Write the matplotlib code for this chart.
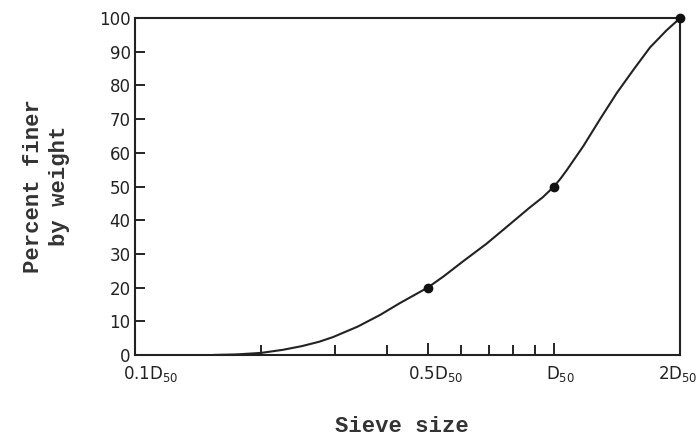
import matplotlib
matplotlib.use("Agg")
import matplotlib.pyplot as plt
import matplotlib.transforms as mtransforms

# Curve (sieve size in units of D50, percent finer)
curve_x = [0.155, 0.175, 0.2, 0.225, 0.25, 0.275, 0.297, 0.34, 0.385, 0.429,
           0.46, 0.5, 0.545, 0.607, 0.69, 0.771, 0.876, 0.94, 1.0, 1.036,
           1.072, 1.175, 1.288, 1.411, 1.546, 1.695, 1.857, 2.0]
curve_y = [0.0, 0.15, 0.6, 1.5, 2.6, 3.9, 5.3, 8.4, 11.9, 15.4,
           17.5, 20.0, 23.3, 27.8, 33.0, 38.0, 43.8, 46.8, 50.0, 52.3,
           54.8, 62.0, 70.0, 77.7, 84.6, 91.3, 96.4, 100.0]

point_x = [0.5, 1.0, 2.0]
point_y = [20, 50, 100]

major_ticks = [0.1, 0.5, 1.0, 2.0]
major_labels = ["0.1D$_{50}$", "0.5D$_{50}$", "D$_{50}$", "2D$_{50}$"]
minor_ticks = [0.2, 0.3, 0.4, 0.6, 0.7, 0.8, 0.9]
y_ticks = list(range(0, 101, 10))

fig = plt.figure(figsize=(6.99, 4.42), dpi=100)
ax = fig.add_axes([0.193, 0.197, 0.78, 0.762])

ax.plot(curve_x, curve_y, color="#222222", lw=1.5, solid_joinstyle="round")
ax.plot(point_x, point_y, "o", color="#111111", ms=6, clip_on=False, zorder=5)

ax.set_xscale("log")
ax.set_xlim(0.1, 2.0)
ax.set_ylim(0, 100)

ax.set_xticks([0.5, 1.0], minor=False)
ax.set_xticks(minor_ticks, minor=True)
ax.tick_params(axis="x", which="major", direction="in", length=9, width=1.2,
               labelbottom=False)
ax.tick_params(axis="x", which="minor", direction="in", length=7, width=1.2,
               labelbottom=False)

offsets = [16, 8, 7, -2]
for xv, lab, off in zip(major_ticks, major_labels, offsets):
    tr = ax.get_xaxis_transform() + mtransforms.ScaledTranslation(
        off / 100.0, -9 / 100.0, fig.dpi_scale_trans)
    ax.text(xv, 0, lab, transform=tr, ha="center", va="top", fontsize=12,
            family="DejaVu Sans", color="#222222")

ax.set_yticks(y_ticks)
ax.set_yticklabels([str(v) for v in y_ticks], fontsize=12, color="#222222")
ax.tick_params(axis="y", direction="in", length=7, width=1.2, pad=3)

for s in ax.spines.values():
    s.set_linewidth(1.5)
    s.set_color("#222222")

fig.text(0.066, 0.58, "Percent finer\nby weight", rotation=90, ha="center",
         va="center", fontsize=16, family="Liberation Mono", weight="bold",
         color="#333333", linespacing=1.3)
fig.text(0.575, 0.035, "Sieve size", ha="center", va="center", fontsize=16,
         family="Liberation Mono", weight="bold", color="#333333")

fig.savefig("out.png", dpi=100)
